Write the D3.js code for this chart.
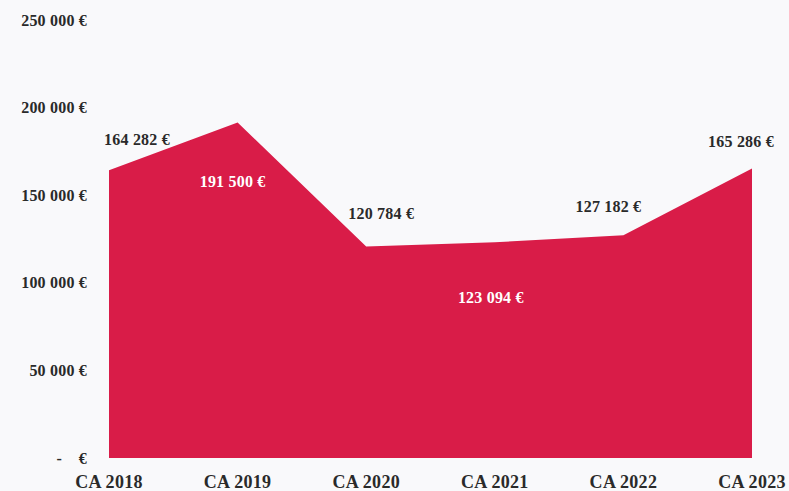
<!DOCTYPE html>
<html><head><meta charset="utf-8">
<script src="https://cdn.jsdelivr.net/npm/d3@7"></script>
<style>
html,body{margin:0;padding:0;background:#f9f9fb;}
svg{display:block;}
text{font-family:"Liberation Serif","DejaVu Serif",serif;}
</style></head>
<body>
<svg id="chart" width="789" height="491"></svg>
<script>
const categories = ["CA 2018","CA 2019","CA 2020","CA 2021","CA 2022","CA 2023"];
const revenue = [164282, 191500, 120784, 123094, 127182, 165286];
const yTicks = [0, 50000, 100000, 150000, 200000, 250000];

// label placement (layout only)
const labelDx = [28, -5, 15, -4, -15, -11];
const labelDy = [-31, 59, -33, 55, -29, -27];
const labelInside = [false, true, false, true, false, false];

const svg = d3.select("#chart");
const x = d3.scalePoint().domain(categories).range([109, 752]);
const y = d3.scaleLinear().domain([0, 250000]).range([458, 20]);

const fmt = v => v === 0 ? "-\u00a0\u00a0\u00a0\u00a0€" : d3.format(",")(v).replace(/,/g, "\u00a0") + " €";

// y-axis labels
svg.append("g").selectAll("text").data(yTicks).join("text")
  .attr("x", 87).attr("y", d => y(d)).attr("dy", "0.35em")
  .attr("text-anchor", "end").attr("font-size", 16).attr("font-weight", "bold")
  .attr("letter-spacing", "0.2px")
  .attr("fill", "#2a2a2a")
  .text(fmt);

// area
const area = d3.area()
  .x((d, i) => x(categories[i]))
  .y0(y(0)).y1(d => y(d));
svg.append("path").datum(revenue)
  .attr("d", area).attr("fill", "#d91c48");

// x labels
svg.append("g").selectAll("text").data(categories).join("text")
  .attr("x", d => x(d)).attr("y", 488)
  .attr("text-anchor", "middle").attr("font-size", 18).attr("font-weight", "bold")
  .attr("letter-spacing", "0.3px")
  .attr("fill", "#2a2a2a").text(d => d);

// data labels
svg.append("g").selectAll("text").data(revenue).join("text")
  .attr("x", (d, i) => x(categories[i]) + labelDx[i])
  .attr("y", (d, i) => y(d) + labelDy[i]).attr("dy", "0.35em")
  .attr("text-anchor", "middle").attr("font-size", 16).attr("font-weight", "bold")
  .attr("letter-spacing", "0.2px")
  .attr("fill", (d, i) => labelInside[i] ? "#ffffff" : "#2a2a2a")
  .text(d => fmt(d));
</script>
</body></html>
